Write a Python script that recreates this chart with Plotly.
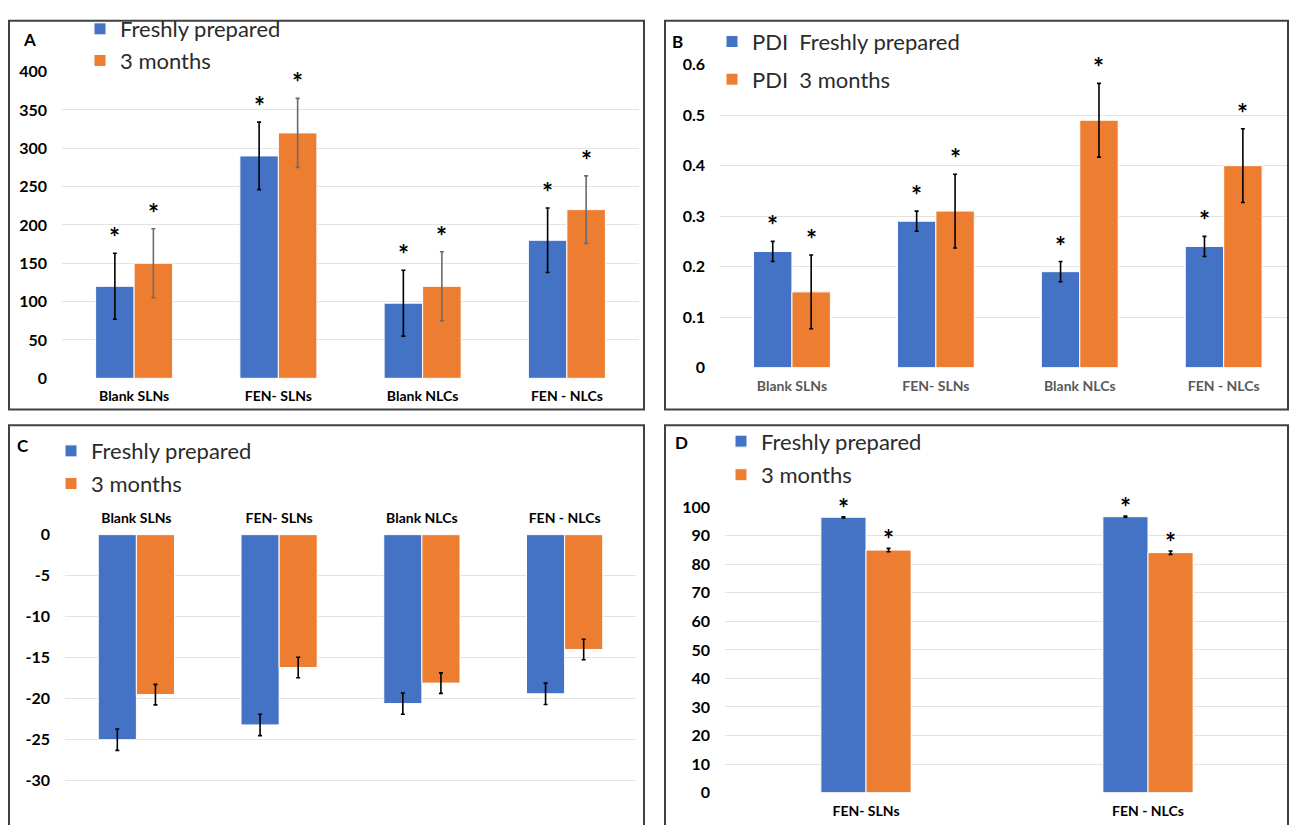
import plotly.graph_objects as go

# ---- data -------------------------------------------------------------
categories = ["Blank SLNs", "FEN- SLNs", "Blank NLCs", "FEN - NLCs"]

size_fresh = [120, 290, 98, 180]
size_fresh_err = [43, 44, 43, 42]
size_3m = [150, 320, 120, 220]
size_3m_err = [45, 45, 45, 44]
size_ticks = [0, 50, 100, 150, 200, 250, 300, 350, 400]

pdi_fresh = [0.23, 0.29, 0.19, 0.24]
pdi_fresh_err = [0.02, 0.02, 0.02, 0.02]
pdi_3m = [0.15, 0.31, 0.49, 0.40]
pdi_3m_err = [0.073, 0.073, 0.073, 0.073]
pdi_ticks = [0, 0.1, 0.2, 0.3, 0.4, 0.5, 0.6]

zeta_fresh = [-25.0, -23.2, -20.6, -19.4]
zeta_fresh_err = [1.3, 1.3, 1.3, 1.3]
zeta_3m = [-19.5, -16.2, -18.1, -14.0]
zeta_3m_err = [1.25, 1.25, 1.25, 1.25]
zeta_ticks = [0, -5, -10, -15, -20, -25, -30]

ee_categories = ["FEN- SLNs", "FEN - NLCs"]
ee_fresh = [96.5, 96.7]
ee_fresh_err = [0.2, 0.2]
ee_3m = [85.0, 84.1]
ee_3m_err = [0.6, 0.6]
ee_ticks = [0, 10, 20, 30, 40, 50, 60, 70, 80, 90, 100]

# ---- styling ----------------------------------------------------------
W, H = 1291, 825
BLUE = "#4472C4"
ORANGE = "#ED7D31"
GRID = "#e3e3e3"
FONT = "Lato"


def px_x(x):
    return x / W


def px_y(y):
    return 1 - y / H


fig = go.Figure()


def add_pair(xa, ya, cats, fresh, fresh_err, later, later_err, names,
             legend, width, later_err_color="black", stars=True,
             star_shift=-2):
    idx = list(range(len(cats)))
    specs = [
        (fresh, fresh_err, BLUE, names[0], -width, "black"),
        (later, later_err, ORANGE, names[1], 0.0, later_err_color),
    ]
    for vals, errs, color, name, off, ecol in specs:
        fig.add_trace(go.Bar(
            x=idx, y=vals, name=name, xaxis=xa, yaxis=ya,
            width=width, offset=off,
            marker=dict(color=color, line=dict(color="white", width=1)),
            error_y=dict(type="data", array=errs, visible=True,
                         color=ecol, thickness=1.6, width=2),
            legend=legend, legendgroup=legend + name, showlegend=True,
        ))
        if stars:
            for i, (v, e) in enumerate(zip(vals, errs)):
                fig.add_annotation(
                    x=i + off + width / 2, y=v + e, xref=xa, yref=ya,
                    text="*", showarrow=False, yanchor="bottom",
                    yshift=star_shift,
                    font=dict(family=FONT, size=26, color="black",
                              weight="bold"),
                )


add_pair("x", "y", categories, size_fresh, size_fresh_err, size_3m,
         size_3m_err, ["Freshly prepared", "3 months"], "legend", 0.267,
         later_err_color="#6b6b6b")
add_pair("x2", "y2", categories, pdi_fresh, pdi_fresh_err, pdi_3m,
         pdi_3m_err, ["PDI  Freshly prepared", "PDI  3 months"], "legend2",
         0.267)
add_pair("x3", "y3", categories, zeta_fresh, zeta_fresh_err, zeta_3m,
         zeta_3m_err, ["Freshly prepared", "3 months"], "legend3", 0.267,
         stars=False)
add_pair("x4", "y4", ee_categories, ee_fresh, ee_fresh_err, ee_3m,
         ee_3m_err, ["Freshly prepared", "3 months"], "legend4", 0.16,
         star_shift=-9)

tick_font = dict(family=FONT, size=16, color="black", weight="bold")
cat_font = dict(family=FONT, size=14, color="black", weight="bold")


def xaxis(dom, cats, rng, side="bottom", color="black", anchor="y"):
    return dict(
        domain=[px_x(dom[0]), px_x(dom[1])], anchor=anchor,
        range=rng, tickmode="array", tickvals=list(range(len(cats))),
        ticktext=cats, showgrid=False, zeroline=False, showline=False,
        ticks="", side=side, ticklabelstandoff=8,
        tickfont=dict(cat_font, color=color), fixedrange=True,
    )


def yaxis(dom, rng, ticks, anchor="x"):
    return dict(
        domain=[px_y(dom[1]), px_y(dom[0])], anchor=anchor,
        range=rng, tickmode="array", tickvals=ticks,
        ticktext=[f"{t:g}" for t in ticks],
        showgrid=True, gridcolor=GRID, gridwidth=1,
        zeroline=False, showline=False, ticks="", ticklabelstandoff=14,
        tickfont=tick_font, fixedrange=True,
    )


def legend(x, y, gap):
    return dict(
        x=px_x(x), y=px_y(y), xanchor="left", yanchor="top",
        bgcolor="rgba(0,0,0,0)", borderwidth=0,
        font=dict(family=FONT, size=22, color="#2b2b2b"),
        traceorder="grouped", tracegroupgap=gap, itemwidth=30,
    )


fig.update_layout(
    width=W, height=H, autosize=False,
    margin=dict(l=0, r=0, t=0, b=0),
    paper_bgcolor="white", plot_bgcolor="white",
    barmode="overlay", showlegend=True,
    xaxis=xaxis([62, 639], categories, [-0.5, 3.5]),
    yaxis=yaxis([63, 377], [0, 400], size_ticks),
    xaxis2=xaxis([720, 1287], categories, [-0.5, 3.44], color="#595959",
                 anchor="y2"),
    yaxis2=yaxis([56, 366], [0, 0.6], pdi_ticks, anchor="x2"),
    xaxis3=xaxis([65, 636], categories, [-0.5, 3.5], side="top",
                 anchor="y3"),
    yaxis3=yaxis([537, 825], [-34.3, 0], zeta_ticks, anchor="x3"),
    xaxis4=xaxis([725, 1289], ee_categories, [-0.5, 1.5], anchor="y4"),
    yaxis4=yaxis([509, 801], [0, 100], ee_ticks, anchor="x4"),
    legend=legend(80, -2, 0),
    legend2=legend(712, 11, 6),
    legend3=legend(51, 430, 1),
    legend4=legend(721, 420, 2),
)

# panel frames
for x0, y0, x1, y1 in [(9, 11, 644, 409), (665, 11, 1288, 409),
                       (9, 425, 644, 840), (665, 425, 1288, 840)]:
    fig.add_shape(type="rect", xref="paper", yref="paper",
                  x0=px_x(x0), x1=px_x(x1), y0=px_y(y1), y1=px_y(y0),
                  line=dict(color="#404040", width=2),
                  fillcolor="rgba(0,0,0,0)", layer="above")

# panel letters
for letter, x, y in [("A", 29, 30), ("B", 677, 32), ("C", 23, 446),
                     ("D", 681, 443)]:
    fig.add_annotation(x=px_x(x), y=px_y(y), xref="paper", yref="paper",
                       xanchor="center", yanchor="middle",
                       text=letter, showarrow=False,
                       font=dict(family=FONT, size=17, color="black",
                                 weight="bold"))

fig.write_html("out.html")
